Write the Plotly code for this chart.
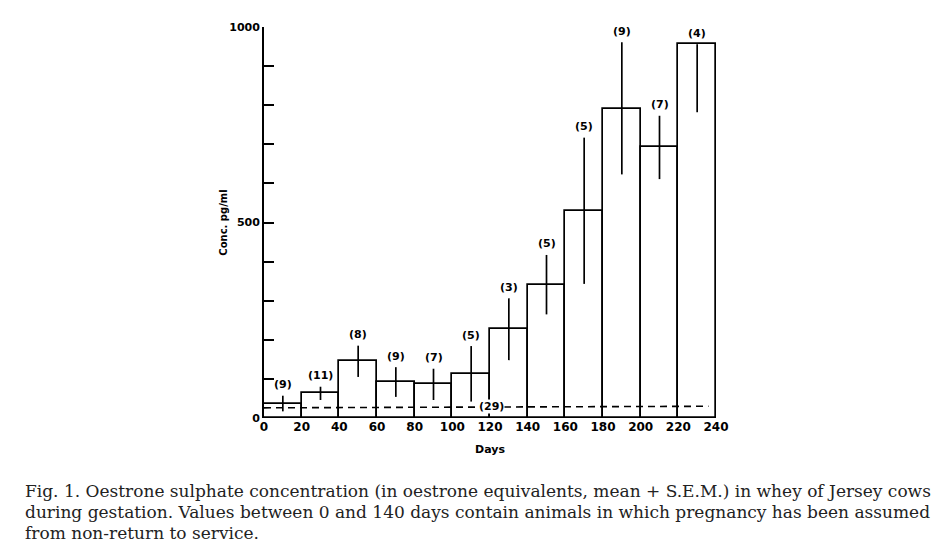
import plotly.graph_objects as go

# --- data ---
day_start = [0, 20, 40, 60, 80, 100, 120, 140, 160, 180, 200, 220]
mean_conc = [37, 63, 145, 92, 86, 113, 227, 341, 530, 791, 692, 956]
sem_plus = [20, 17, 40, 38, 40, 71, 79, 76, 187, 170, 81, 0]
sem_minus = [20, 17, 40, 38, 40, 71, 79, 76, 187, 168, 81, 174]
n_cows = ["(9)", "(11)", "(8)", "(9)", "(7)", "(5)", "(3)", "(5)", "(5)", "(9)", "(7)", "(4)"]

# non-pregnant baseline (dashed), n = 29
base_days = [0, 236]
base_conc = [26, 30]
base_label = "(29)"

x_ticks = list(range(0, 241, 20))
y_ticks = list(range(0, 1001, 100))
y_ticktext = [str(v) if v in (0, 500, 1000) else "" for v in y_ticks]

caption = ["Fig. 1. Oestrone sulphate concentration (in oestrone equivalents, mean + S.E.M.) in whey of Jersey cows",
           "during gestation. Values between 0 and 140 days contain animals in which pregnancy has been assumed",
           "from non-return to service."]

# page has an 8px body margin, so the figure is offset by it
W, H = 946, 556
OFF = 8
L, R, T, B = 264 - OFF, 230 + OFF, 27 - OFF, 138 + OFF
label_font = dict(family="DejaVu Sans", size=11, color="black", weight="bold")

centers = [d + 10 for d in day_start]
tops = [m + p for m, p in zip(mean_conc, sem_plus)]

fig = go.Figure()

fig.add_trace(go.Bar(
    x=centers, y=mean_conc, width=20,
    marker=dict(color="white", line=dict(color="black", width=1.7)),
    error_y=dict(type="data", array=sem_plus, arrayminus=sem_minus,
                 color="black", thickness=1.7, width=0),
    showlegend=False))

fig.add_trace(go.Scatter(
    x=base_days, y=base_conc, mode="lines",
    line=dict(color="black", width=1.6, dash="7px,5px"),
    showlegend=False))

for xc, yt, n in zip(centers, tops, n_cows):
    fig.add_annotation(x=xc, y=yt, text=n, showarrow=False, yshift=11,
                       yanchor="middle", font=label_font)

fig.add_annotation(x=121, y=29, text=base_label, showarrow=False,
                   font=label_font, bgcolor="white", borderpad=0)

# caption under the figure
def px_x(px):
    return (px - OFF - L) / (W - L - R)

def px_y(py):
    return (H - B - (py - OFF)) / (H - T - B)

for i, line in enumerate(caption):
    fig.add_annotation(xref="paper", yref="paper", x=px_x(23), y=px_y(490.5 + i * 21),
                       xanchor="left", yanchor="middle", text=line, showarrow=False,
                       font=dict(family="DejaVu Serif", size=17, color="#222"))

fig.update_layout(
    width=W, height=H,
    margin=dict(l=L, r=R, t=T, b=B),
    plot_bgcolor="white", paper_bgcolor="white",
    bargap=0,
)

fig.update_xaxes(range=[0, 240], showline=False,
                 showgrid=False, zeroline=False, ticks="",
                 tickvals=x_ticks, tickfont=dict(family="DejaVu Sans", size=12, color="black", weight="bold"),
                 title=dict(text="<b>Days</b>", font=dict(family="DejaVu Sans", size=11, color="black"), standoff=12))

fig.update_yaxes(range=[0, 1000], showline=True, linecolor="black", linewidth=1.7,
                 showgrid=False, zeroline=False, ticks="inside", ticklen=10, tickwidth=1.7,
                 tickcolor="black", tickvals=y_ticks, ticktext=y_ticktext,
                 tickfont=dict(family="DejaVu Sans", size=11, color="black", weight="bold"),
                 title=dict(text="<b>Conc. pg/ml</b>", font=dict(family="DejaVu Sans", size=10, color="black"), standoff=0))

fig.write_html("out.html")
